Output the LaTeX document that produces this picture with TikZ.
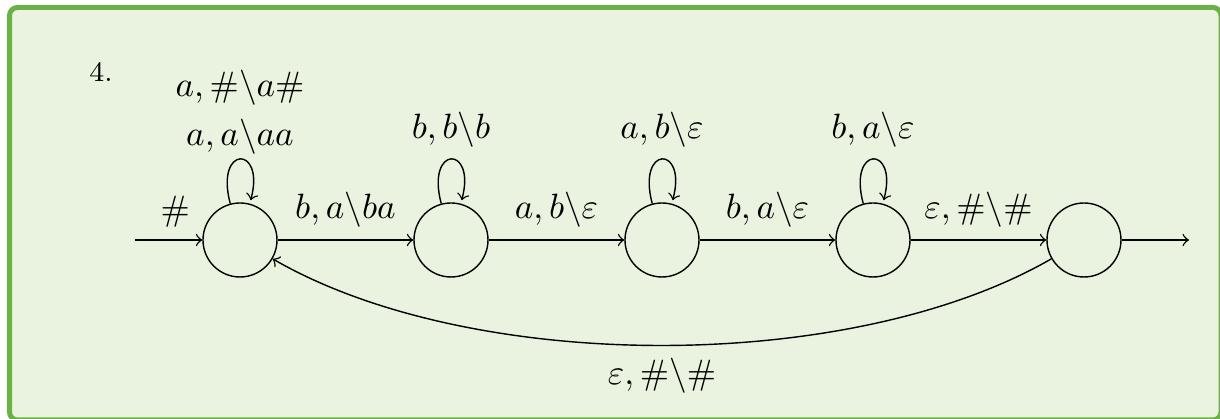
\documentclass[tikz,border=0pt]{standalone}
\usetikzlibrary{positioning}
\definecolor{FrameGreen}{RGB}{108,177,72}
\definecolor{PaleGreen}{RGB}{234,243,223}

\begin{document}
\begin{tikzpicture}[
node distance=2.11cm,on grid,
st/.style={circle,draw,minimum size=7.4mm,inner sep=0pt},
frame/.style={draw=FrameGreen,fill=PaleGreen,line width=0.05cm,rounded corners=0.8mm}
]
\useasboundingbox (0,0) rectangle (12.2,4.19);
\draw[frame] (0.095,-0.01) rectangle (12.21,4.115);
\node (num) at (1.01,3.47) {\footnotesize 4.};
% states
\node[st] (q0) at (2.40,1.79) {};
\node[st,right=of q0] (q1) {};
\node[st,right=of q1] (q2) {};
\node[st,right=of q2] (q3) {};
\node[st,right=of q3] (q4) {};
\coordinate (start) at (1.35,1.79);
\coordinate (end) at (11.89,1.79);
% transitions
\draw[->] (start) -- node[above,pos=0.6] {$\#$} (q0);
\draw[->] (q0) -- node[above] {$b,a\backslash ba$} (q1);
\draw[->] (q1) -- node[above] {$a,b\backslash\varepsilon$} (q2);
\draw[->] (q2) -- node[above] {$b,a\backslash\varepsilon$} (q3);
\draw[->] (q3) -- node[above] {$\varepsilon,\#\backslash\#$} (q4);
\draw[->] (q4) -- (end);
\path[->] (q0) edge[loop above] node[above,align=center,yshift=-2pt] {$a,\#\backslash a\#$\\[2pt]$a,a\backslash aa$} ();
\path[->] (q1) edge[loop above] node[above] {$b,b\backslash b$} ();
\path[->] (q2) edge[loop above] node[above] {$a,b\backslash\varepsilon$} ();
\path[->] (q3) edge[loop above] node[above] {$b,a\backslash\varepsilon$} ();
\draw[->] (q4) to[out=-150,in=-30,looseness=0.76] node[below] {$\varepsilon,\#\backslash\#$} (q0);
\end{tikzpicture}
\end{document}
